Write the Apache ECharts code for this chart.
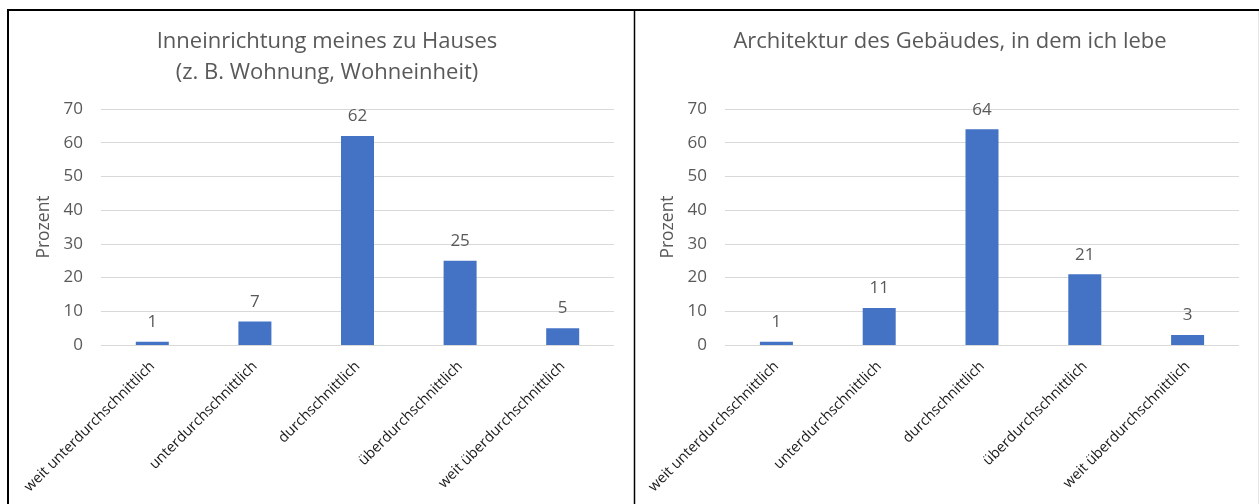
<!DOCTYPE html>
<html>
<head>
<meta charset="utf-8">
<script src="https://cdn.jsdelivr.net/npm/echarts@6/dist/echarts.min.js"></script>
<style>
  html, body { margin: 0; padding: 0; background: #fff; }
  #chart { width: 1259px; height: 504px; }
</style>
</head>
<body>
<div id="chart"></div>
<script>
// Kategorien der Bewertungsskala
const categories = [
  'weit unterdurchschnittlich',
  'unterdurchschnittlich',
  'durchschnittlich',
  'überdurchschnittlich',
  'weit überdurchschnittlich'
];
// Anteile in Prozent
const interiorValues = [1, 7, 62, 25, 5];
const architectureValues = [1, 11, 64, 21, 3];
// Titel der beiden Diagramme
const interiorTitle = 'Inneinrichtung meines zu Hauses\n(z. B. Wohnung, Wohneinheit)';
const architectureTitle = 'Architektur des Gebäudes, in dem ich lebe';
const axisName = 'Prozent';

const FONT = 'Open Sans';
const GREY = '#595959';
const BAR = '#4472c4';

function xAxisFor(gridIndex) {
  return {
    type: 'category',
    gridIndex: gridIndex,
    data: categories,
    axisLine: { show: false },
    axisTick: { show: false },
    axisLabel: {
      rotate: 45,
      margin: 19,
      interval: 0,
      color: '#1a1a1a',
      fontFamily: FONT,
      fontSize: 14.5
    }
  };
}

function yAxisFor(gridIndex) {
  return {
    type: 'value',
    gridIndex: gridIndex,
    min: 0,
    max: 70,
    interval: 10,
    name: axisName,
    nameLocation: 'middle',
    nameGap: 48,
    nameTextStyle: { color: GREY, fontFamily: FONT, fontSize: 17.5 },
    axisLine: { show: false },
    axisTick: { show: false },
    axisLabel: { color: GREY, fontFamily: FONT, fontSize: 17, margin: 18 },
    splitLine: { lineStyle: { color: '#d9d9d9', width: 1 } }
  };
}

function barSeries(idx, values) {
  return {
    type: 'bar',
    xAxisIndex: idx,
    yAxisIndex: idx,
    data: values,
    barWidth: 33,
    itemStyle: { color: BAR },
    label: {
      show: true,
      position: 'top',
      distance: 11,
      color: GREY,
      fontFamily: FONT,
      fontSize: 17
    },
    silent: true
  };
}

const chart = echarts.init(document.getElementById('chart'), null, { renderer: 'canvas' });

const titleStyle = { color: GREY, fontFamily: FONT, fontSize: 22, fontWeight: 'normal', lineHeight: 31 };

chart.setOption({
  backgroundColor: '#ffffff',
  animation: false,
  title: [
    { text: interiorTitle, left: 322, top: 21, textAlign: 'center', textStyle: titleStyle },
    { text: architectureTitle, left: 945, top: 21, textAlign: 'center', textStyle: titleStyle }
  ],
  grid: [
    { left: 101, top: 109, width: 513, height: 236 },
    { left: 725, top: 109, width: 514, height: 236 }
  ],
  xAxis: [xAxisFor(0), xAxisFor(1)],
  yAxis: [yAxisFor(0), yAxisFor(1)],
  series: [barSeries(0, interiorValues), barSeries(1, architectureValues)],
  graphic: [
    // Rahmen der beiden Diagrammflächen
    { type: 'line', shape: { x1: 8, y1: 10, x2: 1259, y2: 10 }, style: { stroke: '#000', lineWidth: 2 } },
    { type: 'line', shape: { x1: 8, y1: 9, x2: 8, y2: 504 }, style: { stroke: '#000', lineWidth: 2 } },
    { type: 'line', shape: { x1: 634.5, y1: 10, x2: 634.5, y2: 504 }, style: { stroke: '#000', lineWidth: 1.5 } },
    { type: 'line', shape: { x1: 1258.5, y1: 11, x2: 1258.5, y2: 504 }, style: { stroke: '#e6e6e6', lineWidth: 1 } }
  ]
});
</script>
</body>
</html>
